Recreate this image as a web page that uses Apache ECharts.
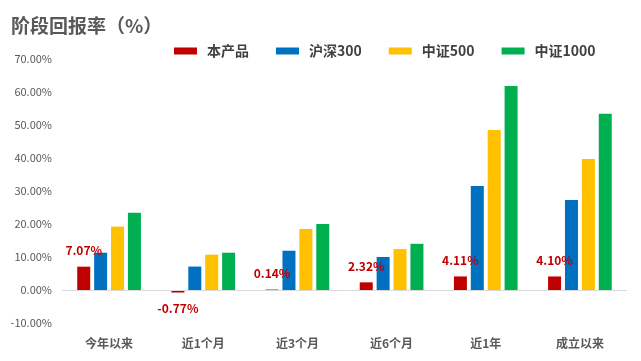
<!DOCTYPE html>
<html>
<head>
<meta charset="utf-8">
<script src="https://cdn.jsdelivr.net/npm/echarts@6/dist/echarts.min.js"></script>
<style>html,body{margin:0;padding:0;background:#fff}#c{width:641px;height:361px}</style>
</head>
<body>
<div id="c"></div>
<script>
var categories = ['今年以来', '近1个月', '近3个月', '近6个月', '近1年', '成立以来'];
var seriesNames = ['本产品', '沪深300', '中证500', '中证1000'];
var product = [7.07, -0.77, 0.14, 2.32, 4.11, 4.10];
var hs300 = [11.3, 7.1, 11.9, 10.0, 31.5, 27.3];
var zz500 = [19.2, 10.7, 18.5, 12.4, 48.5, 39.7];
var zz1000 = [23.4, 11.3, 20.0, 14.0, 61.8, 53.4];
var colors = ['#C00000', '#0070C0', '#FFC000', '#00B050'];

var FONT = '"Noto Sans CJK SC", "Microsoft YaHei", sans-serif';
var chart = echarts.init(document.getElementById('c'));

function productData(arr) {
  return arr.map(function (v) {
    return v < 0 ? { value: v, label: { position: 'bottom' } } : v;
  });
}

var allData = [productData(product), hs300, zz500, zz1000];
var series = seriesNames.map(function (name, i) {
  var s = {
    name: name,
    type: 'bar',
    data: allData[i],
    barWidth: 13,
    barGap: '30%',
    itemStyle: { color: colors[i] }
  };
  if (i === 0) {
    s.label = {
      show: true,
      position: 'top',
      distance: 10,
      color: '#C00000',
      fontWeight: 'bold',
      fontSize: 12,
      fontFamily: FONT,
      formatter: function (p) { return p.value.toFixed(2) + '%'; }
    };
    s.markLine = {
      silent: true,
      symbol: 'none',
      label: { show: false },
      lineStyle: { color: '#D9D9D9', type: 'solid', width: 1 },
      data: [{ yAxis: 0 }],
      animation: false
    };
  }
  return s;
});

chart.setOption({
  animation: false,
  backgroundColor: '#fff',
  title: {
    text: '阶段回报率（%）',
    left: 11,
    top: 16,
    padding: 0,
    textStyle: { fontSize: 19, fontWeight: 'bold', color: '#595959', fontFamily: FONT }
  },
  legend: {
    left: 174,
    top: 44,
    padding: 0,
    itemWidth: 23,
    itemHeight: 7,
    itemGap: 27,
    icon: 'rect',
    textStyle: { fontSize: 14, fontWeight: 'bold', color: '#404040', fontFamily: FONT, padding: [0, 0, 0, 5] },
    data: seriesNames
  },
  grid: { left: 62, right: 14, top: 59, bottom: 38, containLabel: false },
  xAxis: {
    type: 'category',
    data: categories,
    axisLine: { show: false },
    axisTick: { show: false },
    axisLabel: { margin: 14, fontSize: 12, fontWeight: 'bold', color: '#595959', fontFamily: FONT }
  },
  yAxis: {
    type: 'value',
    min: -10,
    max: 70,
    interval: 10,
    axisLine: { show: false },
    axisTick: { show: false },
    splitLine: { show: false },
    axisLabel: {
      margin: 10,
      fontSize: 11,
      color: '#595959',
      fontFamily: FONT,
      formatter: function (v) { return v.toFixed(2) + '%'; }
    }
  },
  series: series
});
</script>
</body>
</html>
